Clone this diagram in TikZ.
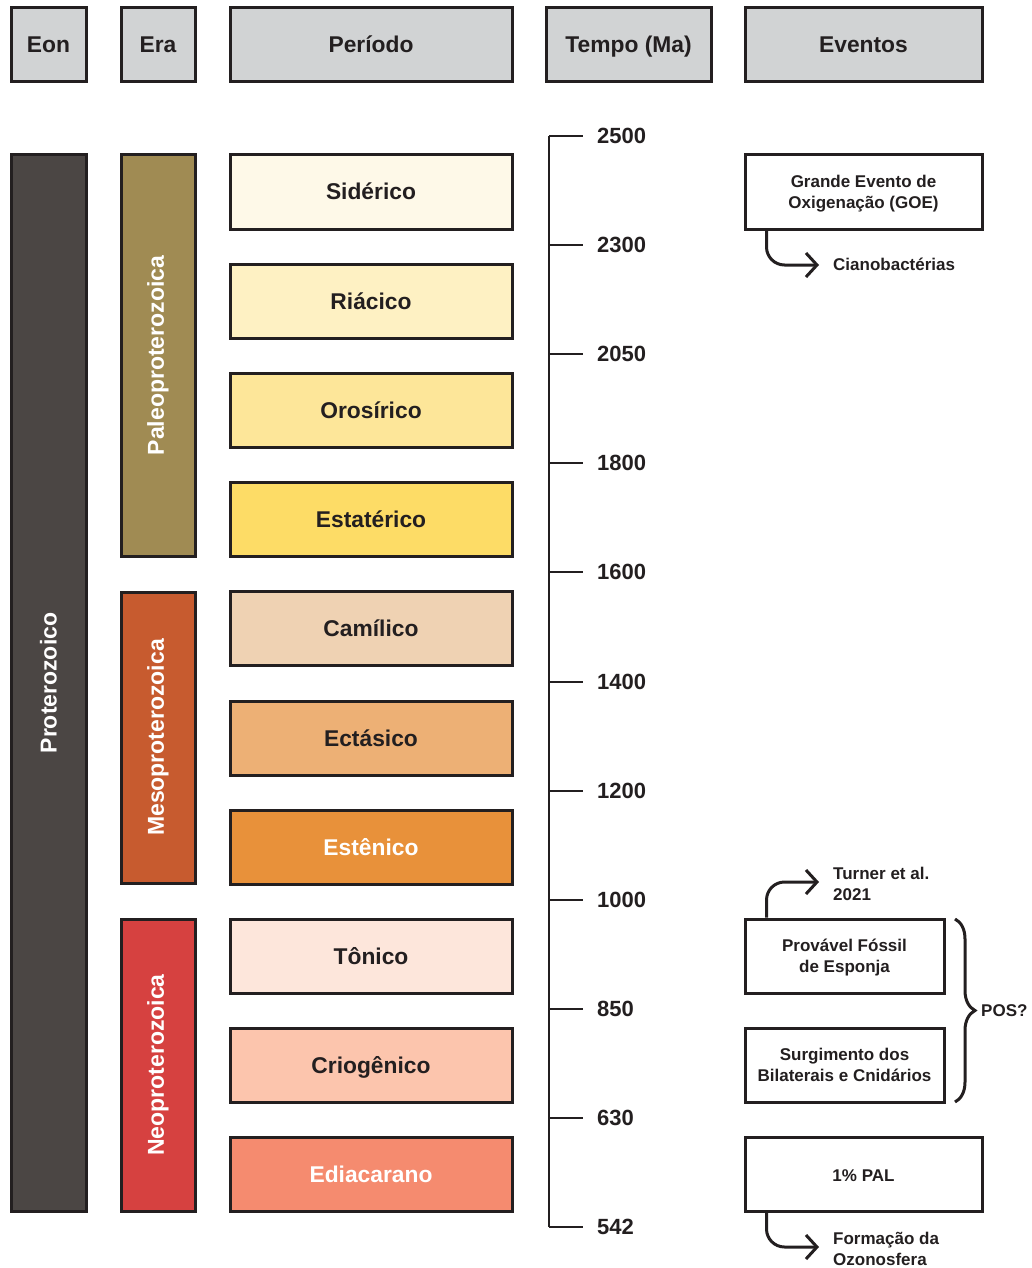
\documentclass[tikz,border=0pt]{standalone}
\usepackage{fontspec}
\setmainfont{Liberation Sans}
\usetikzlibrary{arrows.meta,calc,decorations.pathreplacing}
\definecolor{ink}{HTML}{231F20}
\definecolor{hdr}{HTML}{D1D3D4}
\definecolor{eonc}{HTML}{4B4644}
\definecolor{paleo}{HTML}{A08B53}
\definecolor{meso}{HTML}{C75B2F}
\definecolor{neo}{HTML}{D64140}
\definecolor{psid}{HTML}{FEF9E8}
\definecolor{pria}{HTML}{FEF1C3}
\definecolor{poro}{HTML}{FDE699}
\definecolor{pest}{HTML}{FDDC66}
\definecolor{pcam}{HTML}{EFD2B3}
\definecolor{pect}{HTML}{EDB075}
\definecolor{pesn}{HTML}{E8913A}
\definecolor{pton}{HTML}{FDE6DB}
\definecolor{pcri}{HTML}{FCC5AD}
\definecolor{pedi}{HTML}{F58B6F}
\begin{document}
\begin{tikzpicture}[x=1pt,y=-1pt,
  box/.style={draw=ink, line width=3pt, inner sep=0pt, align=center, text=ink,
    font=\fontsize{22.8}{26}\selectfont\bfseries},
  one/.style={text height=18pt, text depth=2pt},
  two/.style={text height=33pt, text depth=0pt},
  hbox/.style={box, one, fill=hdr, minimum height=74pt},
  pbox/.style={box, one, minimum width=282pt, minimum height=74pt},
  erabox/.style={box, minimum width=74pt},
  rlabel/.style={rotate=90, text=white, font=\fontsize{23}{26}\selectfont\bfseries},
  ebox/.style={box, fill=white, minimum height=74pt, font=\fontsize{17}{21}\selectfont\bfseries},
  elabel/.style={anchor=west, align=left, inner sep=0pt, text=ink, font=\fontsize{17}{21}\selectfont\bfseries},
  tlabel/.style={anchor=west, inner sep=0pt, text=ink, font=\fontsize{22}{24}\selectfont\bfseries},
  tick/.style={draw=ink, line width=2pt},
  evarrow/.style={draw=ink, line width=3pt, rounded corners=18pt, -{Straight Barb[length=11pt,width=24pt]}}
]
\useasboundingbox (0,0) rectangle (1032,1268);
% headers
\node[hbox, minimum width=75pt] (heon) at (48.5,45) {Eon};
\node[hbox, minimum width=74pt] (hera) at (158,45) {Era};
\node[hbox, minimum width=282pt] (hper) at (371,45) {Período};
\node[hbox, minimum width=165pt] (htmp) at (628.5,45) {Tempo (Ma)};
\node[hbox, minimum width=237pt] (hevt) at (863.5,45) {Eventos};
% eon
\node[box, fill=eonc, minimum width=75pt, minimum height=1056pt, text=white] (eon) at (48.5,683) {};
\node[rlabel] (eonl) at (eon.center) {Proterozoico};
% eras
\node[erabox, fill=paleo, minimum height=401pt] (paleo) at (158,355.5) {};
\node[rlabel] (paleol) at (paleo.center) {Paleoproterozoica};
\node[erabox, fill=meso, minimum height=291pt] (meso) at (158,737.5) {};
\node[rlabel] (mesol) at (meso.center) {Mesoproterozoica};
\node[erabox, fill=neo, minimum height=292pt] (neo) at (158,1065) {};
\node[rlabel] (neol) at (neo.center) {Neoproterozoica};
% periods
\node[pbox, fill=psid] (p1) at (371,192) {Sidérico};
\node[pbox, fill=pria] (p2) at (371,301) {Riácico};
\node[pbox, fill=poro] (p3) at (371,410) {Orosírico};
\node[pbox, fill=pest] (p4) at (371,519) {Estatérico};
\node[pbox, fill=pcam] (p5) at (371,628) {Camílico};
\node[pbox, fill=pect] (p6) at (371,738) {Ectásico};
\node[pbox, fill=pesn, text=white] (p7) at (371,847) {Estênico};
\node[pbox, fill=pton] (p8) at (371,956) {Tônico};
\node[pbox, fill=pcri] (p9) at (371,1065) {Criogênico};
\node[pbox, fill=pedi, text=white] (p10) at (371,1174) {Ediacarano};
% timeline
\coordinate (ttop) at (549,136);
\coordinate (tbot) at (549,1227);
\draw[tick] (ttop) -- (tbot);
\foreach \y/\v [count=\i] in {136/2500,245/2300,354/2050,463/1800,572/1600,682/1400,791/1200,900/1000,1009/850,1118/630,1227/542}{
  \coordinate (t\i) at (549,\y);
  \draw[tick] (t\i) -- ++(34,0) coordinate (te\i);
  \node[tlabel] (tl\i) at ($(te\i)+(14,0)$) {\v};
}
% events
\node[ebox, two, minimum width=237pt] (goe) at (863.5,192) {Grande Evento de\\Oxigenação (GOE)};
\node[ebox, two, minimum width=199pt] (pfe) at (844.5,956) {Provável Fóssil\\de Esponja};
\node[ebox, two, minimum width=199pt] (sbc) at (844.5,1065) {Surgimento dos\\Bilaterais e Cnidários};
\node[ebox, text height=14pt, text depth=0pt, minimum width=237pt] (pal) at (863.5,1174) {1\% PAL};
\node[elabel] (cia) at (833,264) {Cianobactérias};
\node[elabel] (tur) at (833,884) {Turner et al.\\2021};
\node[elabel] (ozo) at (833,1249) {Formação da\\Ozonosfera};
\coordinate (a1) at ($(goe.south west)+(23,0)$);
\coordinate (a2) at ($(pfe.north west)+(23,0)$);
\coordinate (a3) at ($(pal.south west)+(23,0)$);
\draw[evarrow] (a1) |- ($(cia.west)+(-14,1)$);
\draw[evarrow] (a2) |- ($(tur.west)+(-14,-2)$);
\draw[evarrow] (a3) |- ($(ozo.west)+(-14,-2)$);
% brace
\coordinate (bt) at (955,919);
\coordinate (bb) at (955,1102);
\draw[draw=ink, line width=3pt, decorate, decoration={brace, amplitude=20pt}] (bt) -- (bb);
\node[elabel] (pos) at (981,1011) {POS?};
\end{tikzpicture}
\end{document}
